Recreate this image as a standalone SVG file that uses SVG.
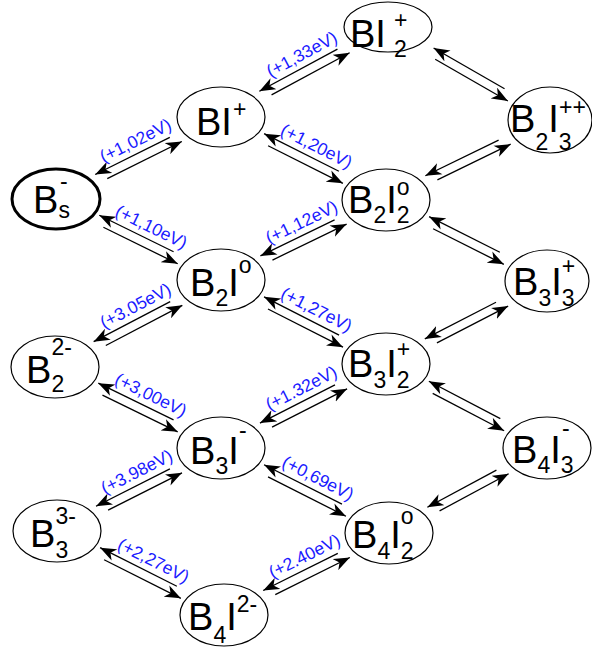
<svg xmlns="http://www.w3.org/2000/svg" width="592" height="652" viewBox="0 0 592 652">
<defs>
<marker id="ah" markerWidth="17" markerHeight="13" refX="16" refY="6.5" orient="auto" markerUnits="userSpaceOnUse" viewBox="0 0 17 13"><path d="M0,0.3 L16,6.5 L0,12.7 L4.5,6.5 z" fill="#000"/></marker>
</defs>
<style>
.n ellipse{fill:#fff;stroke:#000;stroke-width:1.2}
.n text{font-family:"Liberation Sans",Arial,sans-serif;fill:#000}
.m{font-size:38px}
.s{font-size:23px}
.c line{stroke:#000;stroke-width:1.3;marker-end:url(#ah)}
.c text{font-family:"Liberation Sans",Arial,sans-serif;font-size:17.5px;fill:#1a1aff;text-anchor:middle}
</style>
<rect width="592" height="652" fill="#fff"/>
<g id="connectors" class="c">
<g transform="translate(56,199) rotate(-26.43)"><line x1="129.3" y1="-4.5" x2="46" y2="-4.5"/><line x1="55" y1="4.5" x2="138.3" y2="4.5"/><text x="97.2" y="-11">(+1,02eV)</text></g>
<g transform="translate(221,117) rotate(-28.32)"><line x1="134.7" y1="-4.5" x2="46" y2="-4.5"/><line x1="55" y1="4.5" x2="143.7" y2="4.5"/><text x="100.9" y="-11">(+1,33eV)</text></g>
<g transform="translate(221,117) rotate(26.70)"><line x1="129.7" y1="-4.5" x2="46" y2="-4.5"/><line x1="55" y1="4.5" x2="138.7" y2="4.5"/><text x="98.4" y="-11">(+1,20eV)</text></g>
<g transform="translate(388,27) rotate(29.86)"><line x1="131.8" y1="-4.5" x2="50" y2="-4.5"/><line x1="57" y1="4.5" x2="140.8" y2="4.5"/></g>
<g transform="translate(386,200) rotate(-26.0)"><line x1="127.5" y1="-4.5" x2="46" y2="-4.5"/><line x1="55" y1="4.5" x2="136.5" y2="4.5"/></g>
<g transform="translate(56,199) rotate(26.15)"><line x1="128.8" y1="-4.5" x2="46" y2="-4.5"/><line x1="55" y1="4.5" x2="137.8" y2="4.5"/><text x="97.9" y="-11">(+1,10eV)</text></g>
<g transform="translate(221,280) rotate(-25.87)"><line x1="128.4" y1="-4.5" x2="46" y2="-4.5"/><line x1="55" y1="4.5" x2="137.4" y2="4.5"/><text x="97.7" y="-11">(+1,12eV)</text></g>
<g transform="translate(386,200) rotate(26.71)"><line x1="125.2" y1="-4.5" x2="46" y2="-4.5"/><line x1="55" y1="4.5" x2="134.2" y2="4.5"/></g>
<g transform="translate(221,280) rotate(26.98)"><line x1="130.2" y1="-4.5" x2="46" y2="-4.5"/><line x1="55" y1="4.5" x2="139.2" y2="4.5"/><text x="98.6" y="-11">(+1,27eV)</text></g>
<g transform="translate(386,364) rotate(-27.27)"><line x1="126.1" y1="-4.5" x2="46" y2="-4.5"/><line x1="55" y1="4.5" x2="135.1" y2="4.5"/></g>
<g transform="translate(55,367) rotate(-27.66)"><line x1="132.4" y1="-4.5" x2="46" y2="-4.5"/><line x1="55" y1="4.5" x2="141.4" y2="4.5"/><text x="99.7" y="-11">(+3.05eV)</text></g>
<g transform="translate(55,367) rotate(26.01)"><line x1="129.7" y1="-4.5" x2="46" y2="-4.5"/><line x1="55" y1="4.5" x2="138.7" y2="4.5"/><text x="98.4" y="-11">(+3,00eV)</text></g>
<g transform="translate(221,448) rotate(-26.98)"><line x1="130.2" y1="-4.5" x2="46" y2="-4.5"/><line x1="55" y1="4.5" x2="139.2" y2="4.5"/><text x="98.6" y="-11">(+1.32eV)</text></g>
<g transform="translate(386,364) rotate(27.55)"><line x1="126.6" y1="-4.5" x2="46" y2="-4.5"/><line x1="55" y1="4.5" x2="135.6" y2="4.5"/></g>
<g transform="translate(221,448) rotate(26.84)"><line x1="133.3" y1="-4.5" x2="46" y2="-4.5"/><line x1="55" y1="4.5" x2="142.3" y2="4.5"/><text x="100.2" y="-11">(+0,69eV)</text></g>
<g transform="translate(389,533) rotate(-28.28)"><line x1="124.4" y1="-4.5" x2="46" y2="-4.5"/><line x1="55" y1="4.5" x2="133.4" y2="4.5"/></g>
<g transform="translate(57,531) rotate(-26.84)"><line x1="128.8" y1="-4.5" x2="46" y2="-4.5"/><line x1="55" y1="4.5" x2="137.8" y2="4.5"/><text x="97.9" y="-11">(+3.98eV)</text></g>
<g transform="translate(57,531) rotate(26.70)"><line x1="131.9" y1="-4.5" x2="46" y2="-4.5"/><line x1="55" y1="4.5" x2="140.9" y2="4.5"/><text x="99.5" y="-11">(+2,27eV)</text></g>
<g transform="translate(224,615) rotate(-26.43)"><line x1="129.3" y1="-4.5" x2="46" y2="-4.5"/><line x1="55" y1="4.5" x2="138.3" y2="4.5"/><text x="98.2" y="-11">(+2.40eV)</text></g>
</g>
<g id="BI2p" class="n"><ellipse cx="388" cy="27" rx="44" ry="25"/><text><tspan class="m" x="350" y="47">BI</tspan><tspan class="s" x="394" y="57">2</tspan><tspan class="s" x="394" y="28">+</tspan></text></g>
<g id="BIp" class="n"><ellipse cx="221" cy="117" rx="44" ry="30"/><text><tspan class="m" x="196" y="135">BI</tspan><tspan class="s" x="233" y="117">+</tspan></text></g>
<g id="B2I3pp" class="n"><ellipse cx="550" cy="120" rx="42" ry="33"/><text><tspan class="m" x="510" y="132">B</tspan><tspan class="s" x="535.4" y="150">2</tspan><tspan class="m" x="548.2" y="132">I</tspan><tspan class="s" x="558.8" y="150">3</tspan><tspan class="s" x="559" y="115">++</tspan></text></g>
<g id="Bs" class="n"><ellipse cx="56" cy="199" rx="44" ry="30" style="stroke-width:3"/><text><tspan class="m" x="33" y="213">B</tspan><tspan class="s" x="58.4" y="218">s</tspan><tspan class="s" x="60" y="189">-</tspan></text></g>
<g id="B2I2o" class="n"><ellipse cx="386" cy="200" rx="44" ry="31"/><text><tspan class="m" x="348" y="213">B</tspan><tspan class="s" x="373.4" y="223">2</tspan><tspan class="m" x="386.2" y="213">I</tspan><tspan class="s" x="396.8" y="223">2</tspan><tspan class="s" x="396.8" y="195">o</tspan></text></g>
<g id="B2Io" class="n"><ellipse cx="221" cy="280" rx="44" ry="31"/><text><tspan class="m" x="190" y="296">B</tspan><tspan class="s" x="215.4" y="306">2</tspan><tspan class="m" x="228.2" y="296">I</tspan><tspan class="s" x="238.8" y="273">o</tspan></text></g>
<g id="B3I3p" class="n"><ellipse cx="547" cy="281" rx="42" ry="31"/><text><tspan class="m" x="513" y="295">B</tspan><tspan class="s" x="538.4" y="306">3</tspan><tspan class="m" x="551.2" y="295">I</tspan><tspan class="s" x="561.8" y="306">3</tspan><tspan class="s" x="561.8" y="274">+</tspan></text></g>
<g id="B2_2m" class="n"><ellipse cx="55" cy="367" rx="44" ry="31"/><text><tspan class="m" x="26" y="383">B</tspan><tspan class="s" x="51.4" y="392">2</tspan><tspan class="s" x="51.4" y="355">2-</tspan></text></g>
<g id="B3I2p" class="n"><ellipse cx="386" cy="364" rx="44" ry="31"/><text><tspan class="m" x="348" y="377">B</tspan><tspan class="s" x="373.4" y="388">3</tspan><tspan class="m" x="386.2" y="377">I</tspan><tspan class="s" x="396.8" y="388">2</tspan><tspan class="s" x="396.8" y="357">+</tspan></text></g>
<g id="B3Im" class="n"><ellipse cx="221" cy="448" rx="44" ry="31"/><text><tspan class="m" x="190" y="464">B</tspan><tspan class="s" x="215.4" y="474">3</tspan><tspan class="m" x="228.2" y="464">I</tspan><tspan class="s" x="239" y="438">-</tspan></text></g>
<g id="B4I3m" class="n"><ellipse cx="547" cy="448" rx="44" ry="31"/><text><tspan class="m" x="512" y="463">B</tspan><tspan class="s" x="537.4" y="473">4</tspan><tspan class="m" x="550.2" y="463">I</tspan><tspan class="s" x="560.8" y="473">3</tspan><tspan class="s" x="562" y="436">-</tspan></text></g>
<g id="B3_3m" class="n"><ellipse cx="57" cy="531" rx="44" ry="31"/><text><tspan class="m" x="30" y="547">B</tspan><tspan class="s" x="55.4" y="558">3</tspan><tspan class="s" x="55.4" y="524">3-</tspan></text></g>
<g id="B4I2o" class="n"><ellipse cx="389" cy="533" rx="44" ry="31"/><text><tspan class="m" x="352" y="548">B</tspan><tspan class="s" x="377.4" y="559">4</tspan><tspan class="m" x="390.2" y="548">I</tspan><tspan class="s" x="400.8" y="559">2</tspan><tspan class="s" x="400.8" y="524">o</tspan></text></g>
<g id="B4I2m" class="n"><ellipse cx="224" cy="615" rx="44" ry="31"/><text><tspan class="m" x="188" y="630">B</tspan><tspan class="s" x="213.4" y="643">4</tspan><tspan class="m" x="226.2" y="630">I</tspan><tspan class="s" x="236.8" y="612">2-</tspan></text></g>
</svg>
